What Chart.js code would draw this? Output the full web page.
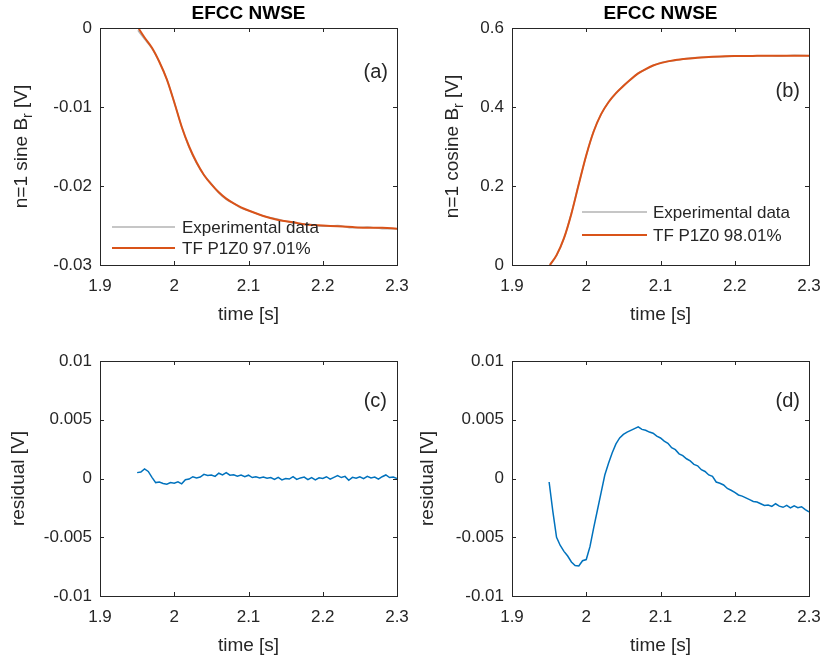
<!DOCTYPE html>
<html><head><meta charset="utf-8">
<script src="https://cdn.jsdelivr.net/npm/chart.js@4.4.0/dist/chart.umd.min.js"></script>
<style>
html,body{margin:0;padding:0;background:#fff;}
#wrap{position:relative;width:827px;height:664px;overflow:hidden;background:#fff;}
canvas{position:absolute;}
</style></head><body>
<div id="wrap">
<canvas id="ca" width="413" height="332" style="left:0px;top:0px"></canvas>
<canvas id="cb" width="414" height="332" style="left:413px;top:0px"></canvas>
<canvas id="cc" width="413" height="332" style="left:0px;top:332px"></canvas>
<canvas id="cd" width="414" height="332" style="left:413px;top:332px"></canvas>
</div>
<script>
// ---------------- data ----------------
const xTicks = [1.9, 2, 2.1, 2.2, 2.3];
const sineTicks = [-0.03, -0.02, -0.01, 0];
const cosTicks = [0, 0.2, 0.4, 0.6];
const resTicks = [-0.01, -0.005, 0, 0.005, 0.01];

const fitTimes = [1.951,1.96,1.97,1.98,1.99,2.00,2.01,2.02,2.03,2.04,2.05,2.06,2.07,2.08,2.09,2.10,2.12,2.14,2.16,2.18,2.20,2.22,2.24,2.26,2.28,2.30];

const sineExp = [-0.0003,-0.0014,-0.0026,-0.0043,-0.0065,-0.0094,-0.0125,-0.0151,-0.0171,-0.0186,-0.0197,-0.0209,-0.0217,-0.0222,-0.0228,-0.0231,-0.0238,-0.0242,-0.0247,-0.0248,-0.0251,-0.0250,-0.0253,-0.0252,-0.0254,-0.0254];
const sineFit = [0.0001,-0.0012,-0.0025,-0.0043,-0.0065,-0.0094,-0.0125,-0.0150,-0.0170,-0.0186,-0.0198,-0.0208,-0.0216,-0.0222,-0.0227,-0.0231,-0.0238,-0.0243,-0.0246,-0.0249,-0.0250,-0.0251,-0.0252,-0.0253,-0.0253,-0.0254];

const cosExp = [0.000,0.024,0.067,0.131,0.206,0.277,0.339,0.381,0.413,0.434,0.454,0.469,0.486,0.495,0.505,0.512,0.518,0.524,0.526,0.527,0.529,0.530,0.530,0.529,0.531,0.530];
const cosFit = [0.000,0.025,0.068,0.130,0.205,0.278,0.338,0.382,0.412,0.435,0.453,0.470,0.485,0.496,0.505,0.511,0.519,0.523,0.526,0.528,0.529,0.529,0.530,0.530,0.530,0.530];

const resTimes = [1.950,1.955,1.960,1.965,1.970,1.975,1.980,1.985,1.990,1.995,2.000,2.005,2.010,2.015,2.020,2.025,2.030,2.035,2.040,2.045,2.050,2.055,2.060,2.065,2.070,2.075,2.080,2.085,2.090,2.095,2.100,2.105,2.110,2.115,2.120,2.125,2.130,2.135,2.140,2.145,2.150,2.155,2.160,2.165,2.170,2.175,2.180,2.185,2.190,2.195,2.200,2.205,2.210,2.215,2.220,2.225,2.230,2.235,2.240,2.245,2.250,2.255,2.260,2.265,2.270,2.275,2.280,2.285,2.290,2.295,2.300];

const sineResidual = [0.00050,0.00055,0.00082,0.00060,0.00010,-0.00035,-0.00030,-0.00042,-0.00048,-0.00035,-0.00040,-0.00028,-0.00045,-0.00010,-0.00005,0.00015,0.00005,0.00012,0.00035,0.00025,0.00030,0.00018,0.00045,0.00030,0.00050,0.00028,0.00032,0.00020,0.00030,0.00015,0.00028,0.00008,0.00015,0.00005,0.00012,0.00002,0.00008,-0.00008,0.00010,-0.00012,0.00000,-0.00005,0.00015,-0.00008,0.00005,0.00012,-0.00010,0.00008,-0.00012,0.00006,0.00000,0.00015,-0.00005,0.00010,0.00025,0.00008,0.00018,-0.00015,0.00010,0.00002,0.00015,-0.00002,0.00018,0.00005,0.00012,-0.00006,0.00015,0.00030,0.00008,0.00012,0.00000];

const cosResidual = [-0.00030,-0.00280,-0.00500,-0.00570,-0.00620,-0.00660,-0.00710,-0.00740,-0.00745,-0.00700,-0.00690,-0.00580,-0.00420,-0.00270,-0.00120,0.00030,0.00130,0.00220,0.00295,0.00345,0.00375,0.00395,0.00410,0.00425,0.00440,0.00418,0.00410,0.00395,0.00385,0.00360,0.00345,0.00318,0.00300,0.00262,0.00245,0.00210,0.00195,0.00168,0.00150,0.00120,0.00108,0.00075,0.00060,0.00030,0.00018,-0.00030,-0.00040,-0.00055,-0.00085,-0.00100,-0.00118,-0.00140,-0.00150,-0.00165,-0.00180,-0.00195,-0.00200,-0.00215,-0.00230,-0.00225,-0.00238,-0.00215,-0.00235,-0.00245,-0.00228,-0.00250,-0.00232,-0.00248,-0.00240,-0.00265,-0.00285];

// ---------------- style ----------------
const FONT = "'Liberation Sans', Arial, Helvetica, sans-serif";
const TXT = '#262626';
const AXC = '#262626';
const RED = '#D95319';
const GRAY = '#b3b3b3';
const BLUE = '#0072BD';

function xy(ts, vs) { return ts.map((t, i) => ({x: t, y: vs[i]})); }
function fmt(v) { return String(Number(Number(v).toFixed(6))); }

const matlabPlugin = {
  id: 'matlab',
  afterDatasetsDraw(chart, args, o) {
    const {ctx, chartArea: a} = chart;
    const xs = chart.scales.x, ys = chart.scales.y;
    ctx.save();
    ctx.strokeStyle = AXC;
    ctx.lineWidth = 1;
    const L = 4;
    ctx.beginPath();
    xs.ticks.forEach(t => {
      const px = Math.round(xs.getPixelForValue(t.value)) + 0.5;
      ctx.moveTo(px, a.bottom); ctx.lineTo(px, a.bottom - L);
      ctx.moveTo(px, a.top); ctx.lineTo(px, a.top + L);
    });
    ys.ticks.forEach(t => {
      const py = Math.round(ys.getPixelForValue(t.value)) + 0.5;
      ctx.moveTo(a.left, py); ctx.lineTo(a.left + L, py);
      ctx.moveTo(a.right, py); ctx.lineTo(a.right - L, py);
    });
    ctx.stroke();
    ctx.strokeRect(Math.round(a.left) + 0.5, Math.round(a.top) + 0.5, Math.round(a.right - a.left), Math.round(a.bottom - a.top));

    // panel letter
    ctx.fillStyle = TXT;
    ctx.font = '20px ' + FONT;
    ctx.textAlign = 'right';
    ctx.textBaseline = 'middle';
    ctx.fillText(o.letter, a.right - o.letterDx, a.top + o.letterDy);

    // legend (no box)
    if (o.legend) {
      const lg = o.legend;
      ctx.font = '17px ' + FONT;
      ctx.textAlign = 'left';
      chart.data.datasets.forEach((ds, i) => {
        const yy = a.top + lg.y0 + i * lg.dy;
        ctx.strokeStyle = ds.borderColor;
        ctx.lineWidth = ds.borderWidth;
        ctx.beginPath();
        ctx.moveTo(a.left + lg.x0, yy); ctx.lineTo(a.left + lg.x1, yy);
        ctx.stroke();
        ctx.fillStyle = TXT;
        ctx.fillText(ds.label, a.left + lg.tx, yy + 1);
      });
    }

    // y-axis title with optional subscript
    const parts = o.yTitle;
    const mainFont = '19px ' + FONT, subFont = '14px ' + FONT;
    ctx.translate(a.left - o.yTitleOffset, (a.top + a.bottom) / 2);
    ctx.rotate(-Math.PI / 2);
    let total = 0;
    parts.forEach(p => { ctx.font = p.sub ? subFont : mainFont; total += ctx.measureText(p.t).width; });
    let xx = -total / 2;
    ctx.fillStyle = TXT;
    ctx.textAlign = 'left';
    ctx.textBaseline = 'middle';
    parts.forEach(p => {
      ctx.font = p.sub ? subFont : mainFont;
      ctx.fillText(p.t, xx, p.sub ? 6 : 0);
      xx += ctx.measureText(p.t).width;
    });
    ctx.restore();
  }
};

function panel(id, o) {
  return new Chart(document.getElementById(id), {
    type: 'line',
    data: { datasets: o.datasets },
    plugins: [matlabPlugin],
    options: {
      responsive: false,
      animation: false,
      devicePixelRatio: 1,
      events: [],
      layout: { padding: o.padding },
      elements: { point: { radius: 0 } },
      plugins: {
        legend: { display: false },
        tooltip: { enabled: false },
        title: o.title ? {
          display: true, text: o.title, fullSize: false, color: '#000',
          font: { family: FONT, size: 19, weight: 'bold' },
          padding: { top: 2, bottom: 3.2 }
        } : { display: false },
        matlab: o.matlab
      },
      scales: {
        x: {
          type: 'linear', min: 1.9, max: 2.3,
          grid: { display: false, drawTicks: true, tickLength: 8 },
          border: { display: false },
          ticks: { font: { family: FONT, size: 17 }, color: TXT, padding: 3, maxRotation: 0, autoSkip: false, callback: fmt },
          afterBuildTicks: s => { s.ticks = xTicks.map(v => ({ value: v })); },
          afterFit: s => { s.height = 61; },
          title: { display: true, text: 'time [s]', color: TXT, font: { family: FONT, size: 19 }, padding: { top: 0, bottom: 0 } }
        },
        y: {
          type: 'linear', min: o.ymin, max: o.ymax,
          grid: { display: false, drawTicks: true, tickLength: 5 },
          border: { display: false },
          ticks: { font: { family: FONT, size: 17 }, color: TXT, padding: 3, autoSkip: false, callback: fmt },
          afterBuildTicks: s => { s.ticks = o.yTicks.map(v => ({ value: v })); },
          afterFit: s => { s.width = o.yWidth; },
          title: { display: false }
        }
      }
    }
  });
}

panel('ca', {
  title: 'EFCC NWSE', ymin: -0.03, ymax: 0, yTicks: sineTicks, yWidth: 100,
  padding: { left: 0, right: 16, top: 0, bottom: 6 },
  datasets: [
    { label: 'Experimental data', data: xy(fitTimes, sineExp), borderColor: GRAY, borderWidth: 1.5, order: 2, cubicInterpolationMode: 'monotone', fill: false },
    { label: 'TF P1Z0 97.01%', data: xy(fitTimes, sineFit), borderColor: RED, borderWidth: 2, order: 1, cubicInterpolationMode: 'monotone', fill: false }
  ],
  matlab: { letter: '(a)', letterDx: 9, letterDy: 44, legend: { x0: 12, x1: 75, tx: 82, y0: 199, dy: 21 },
            yTitle: [{ t: 'n=1 sine B' }, { t: 'r', sub: true }, { t: ' [V]' }], yTitleOffset: 78 }
});

panel('cb', {
  title: 'EFCC NWSE', ymin: 0, ymax: 0.6, yTicks: cosTicks, yWidth: 99,
  padding: { left: 0, right: 18, top: 0, bottom: 6 },
  datasets: [
    { label: 'Experimental data', data: xy(fitTimes, cosExp), borderColor: GRAY, borderWidth: 1.5, order: 2, cubicInterpolationMode: 'monotone', fill: false },
    { label: 'TF P1Z0 98.01%', data: xy(fitTimes, cosFit), borderColor: RED, borderWidth: 2, order: 1, cubicInterpolationMode: 'monotone', fill: false }
  ],
  matlab: { letter: '(b)', letterDx: 9, letterDy: 63, legend: { x0: 70, x1: 135, tx: 141, y0: 184, dy: 23 },
            yTitle: [{ t: 'n=1 cosine B' }, { t: 'r', sub: true }, { t: ' [V]' }], yTitleOffset: 59 }
});

panel('cc', {
  title: null, ymin: -0.01, ymax: 0.01, yTicks: resTicks, yWidth: 100,
  padding: { left: 0, right: 16, top: 29, bottom: 7 },
  datasets: [
    { label: 'residual', data: xy(resTimes, sineResidual), borderColor: BLUE, borderWidth: 1.5, tension: 0, fill: false }
  ],
  matlab: { letter: '(c)', letterDx: 10, letterDy: 40, legend: null,
            yTitle: [{ t: 'residual [V]' }], yTitleOffset: 81 }
});

panel('cd', {
  title: null, ymin: -0.01, ymax: 0.01, yTicks: resTicks, yWidth: 99,
  padding: { left: 0, right: 18, top: 29, bottom: 7 },
  datasets: [
    { label: 'residual', data: xy(resTimes, cosResidual), borderColor: BLUE, borderWidth: 1.5, tension: 0, fill: false }
  ],
  matlab: { letter: '(d)', letterDx: 9, letterDy: 40, legend: null,
            yTitle: [{ t: 'residual [V]' }], yTitleOffset: 84 }
});
</script>
</body></html>
